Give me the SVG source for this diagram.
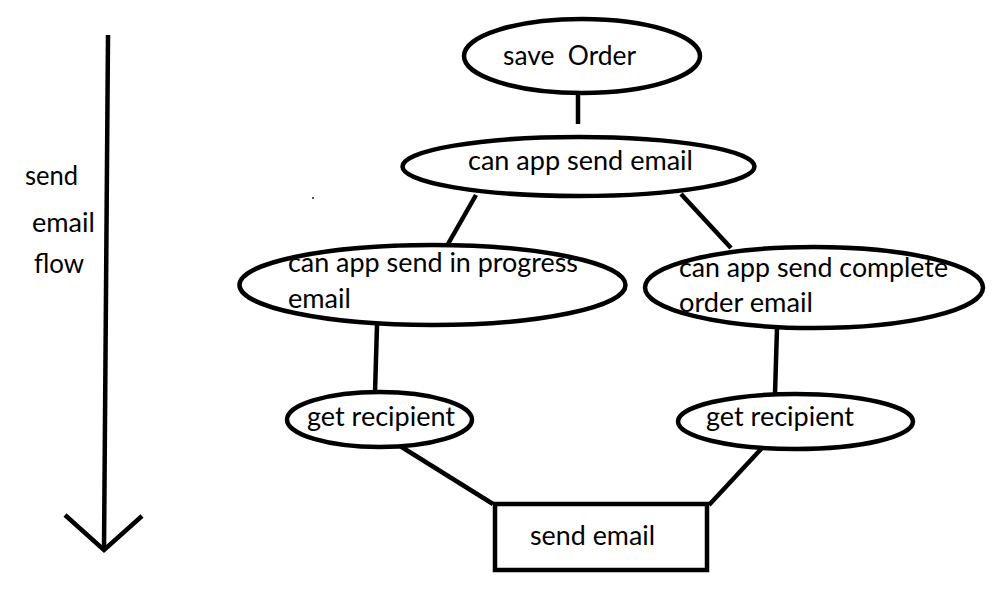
<svg xmlns="http://www.w3.org/2000/svg" width="996" height="610" viewBox="0 0 996 610">
<style>
  .n { fill: #fff; stroke: #000; stroke-width: 4.5; }
  .c { stroke: #000; stroke-width: 4.5; fill: none; stroke-linecap: butt; }
  .t { font-family: Lato, "Open Sans", "Liberation Sans", sans-serif; font-size: 26px; fill: #000; white-space: pre; }
</style>
<rect width="996" height="610" fill="#fff"/>
<g id="connectors">
  <line class="c" x1="578" y1="92" x2="578" y2="124"/>
  <line class="c" x1="476" y1="195" x2="448" y2="244"/>
  <line class="c" x1="681" y1="194" x2="731" y2="248"/>
  <line class="c" x1="377" y1="325" x2="375" y2="393"/>
  <line class="c" x1="777" y1="328" x2="775" y2="394"/>
  <line class="c" x1="400" y1="446" x2="493" y2="504"/>
  <line class="c" x1="762" y1="448" x2="709" y2="505"/>
</g>
<g id="flow-arrow">
  <line class="c" x1="108" y1="35" x2="104" y2="550" stroke-width="5"/>
  <polyline class="c" points="65,515 104,550 142,516" stroke-linejoin="miter"/>
  <text class="t" x="25" y="185" textLength="53" lengthAdjust="spacingAndGlyphs">send</text>
  <text class="t" x="32" y="232" textLength="63" lengthAdjust="spacingAndGlyphs">email</text>
  <text class="t" x="34" y="273" textLength="50" lengthAdjust="spacingAndGlyphs">flow</text>
</g>
<g id="save-order">
  <ellipse class="n" cx="582" cy="56" rx="118" ry="37"/>
  <text class="t" x="503" y="65" textLength="133" lengthAdjust="spacingAndGlyphs">save  Order</text>
</g>
<g id="can-send-email">
  <ellipse class="n" cx="578.5" cy="166.5" rx="176" ry="29.5"/>
  <text class="t" x="468" y="170" textLength="225" lengthAdjust="spacingAndGlyphs">can app send email</text>
</g>
<g id="can-send-in-progress">
  <ellipse class="n" cx="432.5" cy="285" rx="193" ry="40"/>
  <text class="t" x="288" y="272" textLength="290" lengthAdjust="spacingAndGlyphs">can app send in progress</text>
  <text class="t" x="288" y="308" textLength="63" lengthAdjust="spacingAndGlyphs">email</text>
</g>
<g id="can-send-complete">
  <ellipse class="n" cx="814" cy="287.5" rx="169" ry="40.5"/>
  <text class="t" x="679" y="277" textLength="269" lengthAdjust="spacingAndGlyphs">can app send complete</text>
  <text class="t" x="679" y="312" textLength="134" lengthAdjust="spacingAndGlyphs">order email</text>
</g>
<g id="get-recipient-left">
  <ellipse class="n" cx="379.5" cy="419.5" rx="92.5" ry="27.5"/>
  <text class="t" x="307" y="426" textLength="148" lengthAdjust="spacingAndGlyphs">get recipient</text>
</g>
<g id="get-recipient-right">
  <ellipse class="n" cx="795.5" cy="421.5" rx="117.5" ry="27.5"/>
  <text class="t" x="706" y="426" textLength="148" lengthAdjust="spacingAndGlyphs">get recipient</text>
</g>
<g id="send-email">
  <rect class="n" x="495" y="504" width="212" height="66"/>
  <text class="t" x="530" y="545" textLength="125" lengthAdjust="spacingAndGlyphs">send email</text>
</g>
<rect x="312" y="197" width="2" height="2" fill="#555"/>
</svg>
